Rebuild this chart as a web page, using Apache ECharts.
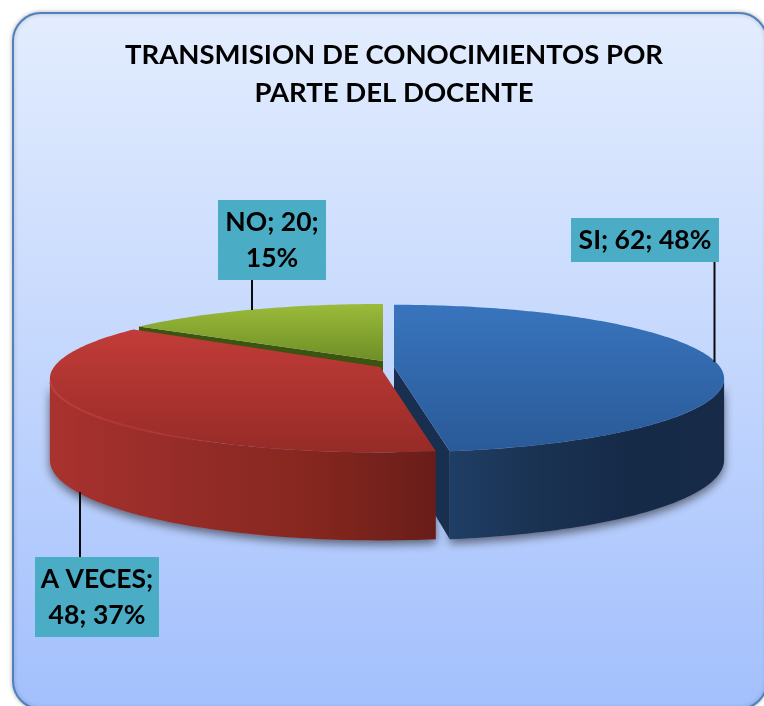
<!DOCTYPE html>
<html>
<head>
<meta charset="utf-8">
<style>html,body{margin:0;padding:0;background:#fff}#c{width:764px;height:706px}</style>
<script src="https://cdn.jsdelivr.net/npm/echarts@6/dist/echarts.min.js"></script>
</head>
<body>
<div id="c"></div>
<script>
const chartTitle = 'TRANSMISION DE CONOCIMIENTOS POR\nPARTE DEL DOCENTE';
const categories = ['SI', 'A VECES', 'NO'];
const values = [62, 48, 20];
const percents = [48, 37, 15];

const total = values.reduce((a, b) => a + b, 0);
const K = 0.157, H = 80;
const font = 'bold 26.5px Lato, "Open Sans", sans-serif';
// Layout of each slice in the tilted view: apex, radii, stacking, colours, label box
const views = [
  { ax: 394, ay: 367, A: 326, B: 72, z: 20,
    top: ['#3874bd', '#2a5a98'], wall: ['#1f3e65', '#1a3252', '#152a47', '#172b49'], inner: '#182f50',
    box: [571, 218, 148, 44], lead: [714.5, 262, 714.5, 362], breakAt: '' },
  { ax: 380, ay: 367, A: 326, B: 72, z: 30,
    top: ['#c23c38', '#962b27'], wall: ['#a9322e', '#962c28', '#86271f', '#691d19'], inner: '#691d19',
    box: [35, 557, 124, 80], lead: [80, 492, 80, 557], breakAt: 'first' },
  { ax: 383, ay: 361, A: 323, B: 66, z: 10,
    top: ['#9abb3a', '#6f8e26'], wall: ['#3d5410', '#3d5410'], inner: '#3d5410',
    box: [218, 200, 108, 80], lead: [252, 280, 252, 310], breakAt: 'second' }
];

function rim(v, deg) {
  const a = deg * Math.PI / 180;
  const X = Math.sin(a), Z = Math.cos(a), s = 1 / (1 + K * Z);
  return [v.ax + v.A * X * s, v.ay - v.B * Z * s];
}
function depth(deg) {
  return H * (1 - 0.1 * Math.cos(deg * Math.PI / 180));
}
function arc(v, from, to, drop) {
  const pts = [];
  const n = Math.max(2, Math.ceil(Math.abs(to - from)));
  for (let i = 0; i <= n; i++) {
    const d = from + (to - from) * i / n;
    const p = rim(v, d);
    pts.push([p[0], p[1] + (drop ? depth(d) : 0)]);
  }
  return pts;
}
function labelText(i) {
  const head = categories[i] + ';', val = values[i] + ';', pct = percents[i] + '%';
  const mode = views[i].breakAt;
  if (mode === 'first') return head + '\n' + val + ' ' + pct;
  if (mode === 'second') return head + ' ' + val + '\n' + pct;
  return head + ' ' + val + ' ' + pct;
}
const grad = (stops, vertical) => ({
  type: 'linear', x: 0, y: 0, x2: vertical ? 0 : 1, y2: vertical ? 1 : 0,
  colorStops: stops.map((c, i) => ({ offset: i / (stops.length - 1), color: c }))
});

function renderItem(params, api) {
  const i = params.dataIndex;
  const v = views[i];
  let start = 0;
  for (let k = 0; k < i; k++) start += values[k];
  const a0 = start / total * 360;
  const a1 = (start + api.value(0)) / total * 360;
  const els = [];
  const z = v.z;

  // visible outer wall, between the two silhouette angles of the tilted rim
  const f0 = Math.max(a0, 99), f1 = Math.min(a1, 261);
  if (f1 > f0) {
    const topEdge = arc(v, f0, f1, false);
    const botEdge = arc(v, f1, f0, true);
    els.push({ type: 'polygon', z2: 2,
      shape: { points: topEdge.concat(botEdge) },
      style: { fill: '#7f8ba0', shadowBlur: 10, shadowColor: 'rgba(50,50,60,0.7)', shadowOffsetY: 4 } });
    els.push({ type: 'polygon', z2: z,
      shape: { points: topEdge.concat(botEdge) },
      style: { fill: grad(v.wall, false) } });
  }
  // radial wall, seen on the slices whose surface lies above the cut
  const wallDeg = (i === 0) ? a1 : (i === 2 ? a0 : null);
  if (wallDeg !== null) {
    const e = rim(v, wallDeg);
    const d = depth(wallDeg);
    els.push({ type: 'polygon', z2: z,
      shape: { points: [[v.ax, v.ay], e, [e[0], e[1] + d], [v.ax, v.ay + H]] },
      style: { fill: v.inner } });
  }
  // top surface
  els.push({ type: 'polygon', z2: z + 1,
    shape: { points: [[v.ax, v.ay]].concat(arc(v, a0, a1, false)) },
    style: { fill: grad(v.top, true) } });
  // bevel highlight on the front rim of the red slice
  if (i === 1) {
    els.push({ type: 'polyline', z2: z + 2,
      shape: { points: arc(v, 258, 205, false) },
      style: { fill: 'none', stroke: grad(['#c0403a', '#b03530', 'rgba(178,53,48,0)'], false), lineWidth: 2 } });
  }
  // leader + label box
  const L = v.lead, b = v.box;
  els.push({ type: 'line', z2: 60,
    shape: { x1: L[0], y1: L[1], x2: L[2], y2: L[3] },
    style: { stroke: '#0b0b0b', lineWidth: 2 } });
  els.push({ type: 'rect', z2: 61,
    shape: { x: b[0], y: b[1], width: b[2], height: b[3] },
    style: { fill: '#4bacc6' } });
  els.push({ type: 'text', z2: 62,
    style: { text: labelText(i), x: b[0] + b[2] / 2, y: b[1] + b[3] / 2, font: font,
      fill: '#000', align: 'center', verticalAlign: 'middle', lineHeight: 36 } });
  return { type: 'group', children: els };
}

const chart = echarts.init(document.getElementById('c'), null, { renderer: 'canvas', width: 764, height: 706 });
chart.setOption({
  animation: false,
  backgroundColor: '#ffffff',
  title: {
    text: chartTitle, left: 389, top: 31, textAlign: 'center',
    textStyle: { fontFamily: 'Lato, "Open Sans", sans-serif', fontWeight: 'bold', fontSize: 27.5, lineHeight: 38, color: '#000' }
  },
  graphic: [{
    type: 'rect', z: -10, silent: true,
    shape: { x: 13, y: 13, width: 754, height: 696, r: 28 },
    style: {
      fill: { type: 'linear', x: 0, y: 0, x2: 0, y2: 1, colorStops: [
        { offset: 0, color: '#e3edfe' }, { offset: 0.45, color: '#c7d9fd' }, { offset: 1, color: '#a3c0fd' }] },
      stroke: '#4f81bd', lineWidth: 2,
      shadowBlur: 4, shadowColor: 'rgba(0,0,0,0.25)'
    }
  }],
  series: [{
    type: 'custom', coordinateSystem: 'none', silent: true, clip: false,
    renderItem: renderItem,
    data: values.map(x => [x])
  }]
});
</script>
</body>
</html>
